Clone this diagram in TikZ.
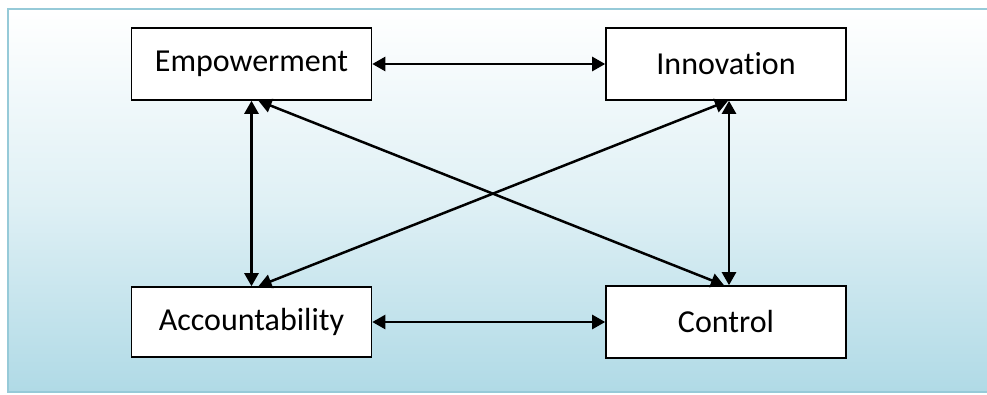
\documentclass[tikz,border=0pt]{standalone}
\usepackage{fontspec}
\setmainfont{Carlito}[Ligatures={NoCommon,NoRare,NoDiscretionary}]
\usetikzlibrary{arrows.meta}
\definecolor{framec}{RGB}{150,202,216}
\definecolor{bgblue}{RGB}{176,218,230}
\begin{document}
\begin{tikzpicture}[x=1pt, y=-1pt,
  box/.style={shape=rectangle, draw=black, fill=white, line width=1.6pt, minimum width=240pt, minimum height=72pt, font=\fontsize{32}{38}\selectfont},
  link/.style={{Triangle[length=13pt,width=14pt]}-{Triangle[length=13pt,width=14pt]}, line width=2.5pt, draw=black}]
\useasboundingbox (0,0) rectangle (987,394);
\fill[white] (0,0) rectangle (987,394);
\shadedraw[top color=white, bottom color=bgblue, middle color=bgblue!40, draw=framec, line width=2pt] (8,9) rectangle (995,392);
\node[box] (emp) at (251.5,64) {Empowerment};
\node[box] (inn) at (726,64) {Innovation};
\node[box, minimum height=70pt] (acc) at (251.5,322) {Accountability};
\node[box] (ctl) at (726,322) {Control};
\draw [link] (emp.east) -- (inn.west);
\draw [link] (acc.east) -- (ctl.west);
\draw [link] (emp.south) -- (acc.north);
\draw [link] ([xshift=3pt]inn.south) -- ([xshift=3pt]ctl.north);
\draw [link] ([xshift=7pt]emp.south) -- ([xshift=-2pt]ctl.north);
\draw [link] ([xshift=2pt]inn.south) -- ([xshift=7pt]acc.north);
\end{tikzpicture}
\end{document}
